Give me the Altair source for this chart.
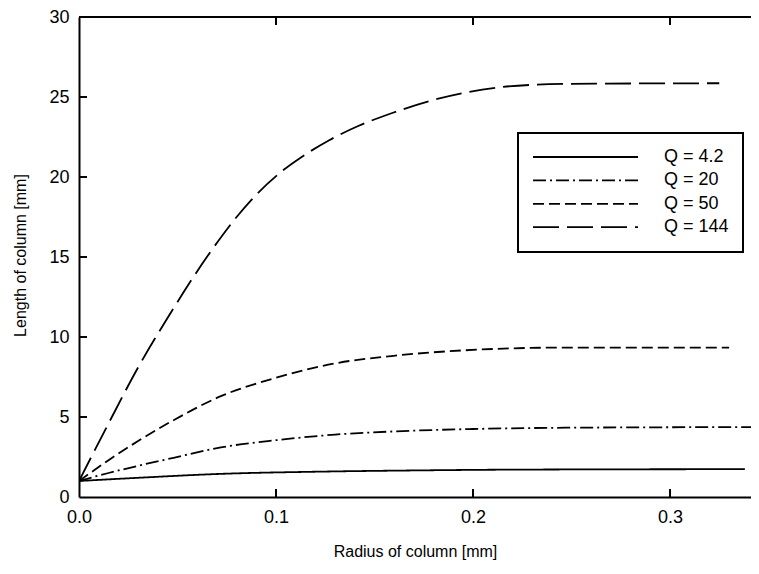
import altair as alt
import pandas as pd

# ---- data ----
series = ["Q = 4.2", "Q = 20", "Q = 50", "Q = 144"]
dashes = [[1, 0], [13, 4, 2, 4], [11, 5], [26, 8]]

r_q4 = [0, 0.03, 0.073, 0.12, 0.17, 0.22, 0.338]
l_q4 = [1.0, 1.2, 1.45, 1.58, 1.66, 1.71, 1.74]

r_q20 = [0, 0.015, 0.03, 0.048, 0.072, 0.1, 0.13, 0.16, 0.2, 0.247, 0.345]
l_q20 = [1.0, 1.5, 1.95, 2.45, 3.1, 3.55, 3.9, 4.1, 4.25, 4.33, 4.37]

r_q50 = [0, 0.015, 0.03, 0.048, 0.072, 0.1, 0.13, 0.1625, 0.196, 0.247, 0.330]
l_q50 = [1.0, 2.3, 3.5, 4.8, 6.3, 7.45, 8.35, 8.86, 9.17, 9.34, 9.34]

r_q144 = [0, 0.015, 0.03, 0.045, 0.0666, 0.08, 0.09, 0.1034, 0.1136, 0.127,
          0.142, 0.159, 0.178, 0.195, 0.213, 0.23, 0.249, 0.325]
l_q144 = [1.0, 4.6, 8.1, 11.2, 15.3, 17.5, 18.9, 20.4, 21.3, 22.3,
          23.2, 24.0, 24.75, 25.25, 25.6, 25.76, 25.82, 25.86]

x_label_values = [0.0, 0.1, 0.2, 0.3]
y_label_values = [0, 5, 10, 15, 20, 25, 30]
x_tick_values = [0.1, 0.2, 0.3]
y_tick_values = [5, 10, 15, 20, 25]

rows = []
for name, xs, ys in zip(series, [r_q4, r_q20, r_q50, r_q144], [l_q4, l_q20, l_q50, l_q144]):
    for x, y in zip(xs, ys):
        rows.append({"series": name, "radius": x, "length": y})
df = pd.DataFrame(rows)

W, H = 672, 480
FONT = "Liberation Sans"

xscale = alt.Scale(domain=[0, 0.3411], nice=False, zero=False)
yscale = alt.Scale(domain=[0, 30], nice=False)

xaxis = alt.Axis(values=x_label_values, format=".1f", title="Radius of column [mm]",
                 titleX=336, titleY=54, titleBaseline="middle", titleAlign="center",
                 labelPadding=11, labelFlush=False)
yaxis = alt.Axis(values=y_label_values, format="d", title="Length of column [mm]",
                 titleX=-59, titleY=238, titleBaseline="middle", titleAlign="center",
                 labelPadding=10, labelFlush=False)

lines = alt.Chart(df).mark_line(color="black", strokeWidth=1.8, interpolate="monotone", clip=True).encode(
    x=alt.X("radius:Q", scale=xscale, axis=xaxis),
    y=alt.Y("length:Q", scale=yscale, axis=yaxis),
    strokeDash=alt.StrokeDash(
        "series:N",
        scale=alt.Scale(domain=series, range=dashes),
        legend=alt.Legend(
            orient="none", legendX=439, legendY=116, title=None,
            symbolType="stroke", symbolSize=11025, symbolStrokeWidth=1.8,
            symbolStrokeColor="black", labelFontSize=18, labelFont=FONT,
            labelColor="black", labelOffset=25, clipHeight=20, rowPadding=3.4,
            labelExpr="datum.label + '\u00a0\u00a0\u00a0\u00a0'", padding=14,
            strokeColor="black", fillColor="white",
        ),
    ),
)

xt = pd.DataFrame({"radius": x_tick_values})
yt = pd.DataFrame({"length": y_tick_values})
one = pd.DataFrame({"k": [0]})

bottom_ticks = alt.Chart(xt).mark_rule(color="black", strokeWidth=2).encode(
    x=alt.X("radius:Q", scale=xscale, axis=xaxis), y=alt.value(H), y2=alt.value(H - 8))
top_ticks = alt.Chart(xt).mark_rule(color="black", strokeWidth=2).encode(
    x=alt.X("radius:Q", scale=xscale, axis=xaxis), y=alt.value(0), y2=alt.value(8))
left_ticks = alt.Chart(yt).mark_rule(color="black", strokeWidth=2).encode(
    y=alt.Y("length:Q", scale=yscale, axis=yaxis), x=alt.value(0), x2=alt.value(8))
top_border = alt.Chart(one).mark_rule(color="black", strokeWidth=2).encode(
    x=alt.value(0), x2=alt.value(W), y=alt.value(0))

chart = alt.layer(lines, bottom_ticks, top_ticks, left_ticks, top_border).properties(
    width=W, height=H,
    padding={"left": 71, "top": 9, "right": 0, "bottom": 63},
    autosize=alt.AutoSizeParams(type="none"),
).configure_view(stroke=None).configure_axis(
    domainColor="black", domainWidth=2, grid=False, ticks=False, tickSize=0,
    labelFont=FONT, labelFontSize=18, labelColor="black",
    titleFont=FONT, titleFontSize=16, titleFontWeight="normal", titleColor="black",
).configure_legend(strokeWidth=2)

chart.save("out.html", embed_options={"renderer": "svg", "actions": False})
